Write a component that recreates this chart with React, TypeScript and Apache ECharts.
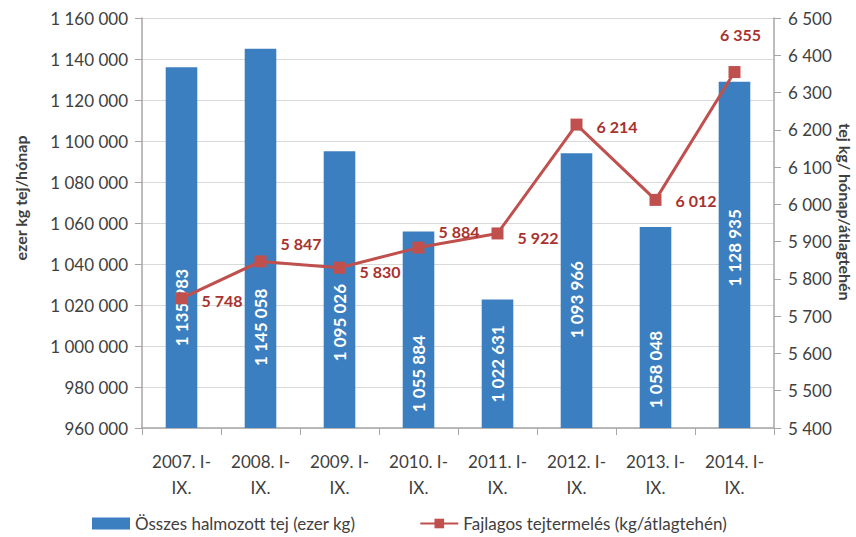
import React, { useEffect, useRef } from "react";
import * as echarts from "echarts";

const categories = ["2007. I-\nIX.", "2008. I-\nIX.", "2009. I-\nIX.", "2010. I-\nIX.", "2011. I-\nIX.", "2012. I-\nIX.", "2013. I-\nIX.", "2014. I-\nIX."];
const milkTotal = [1135983, 1145058, 1095026, 1055884, 1022631, 1093966, 1058048, 1128935];
const milkPerCow = [5748, 5847, 5830, 5884, 5922, 6214, 6012, 6355];
const barName = "Összes halmozott tej (ezer kg)";
const lineName = "Fajlagos tejtermelés (kg/átlagtehén)";
const leftAxisTitle = "ezer kg tej/hónap";
const rightAxisTitle = "tej kg/ hónap/átlagtehén";

const FONT = "Lato";
const fmt = (v: number) => String(Math.round(v)).replace(/\B(?=(\d{3})+(?!\d))/g, " ");

// label placement tweaks (styling only)
const barLabelShift = [60, 89, 33, 44, 0, 9, 42, -7];
const lineLabelStyle = [
  { position: "right", offset: [4, 2] },
  { position: "right", offset: [4, -18] },
  { position: "right", offset: [4, 4] },
  { position: "right", offset: [4, -16] },
  { position: "right", offset: [4, 4] },
  { position: "right", offset: [4, 2] },
  { position: "right", offset: [4, 1] },
  { position: "top", offset: [6, -14] },
];

export default function App() {
  const ref = useRef<HTMLDivElement>(null);
  useEffect(() => {
    if (!ref.current) return;
    const chart = echarts.init(ref.current, null, { renderer: "svg" });
    const axisLabel = { color: "#404040", fontFamily: FONT, fontSize: 17 };
    chart.setOption({
      animation: false,
      grid: { left: 142, right: 82, top: 18, bottom: 109 },
      legend: {
        top: 515,
        left: 92,
        padding: 0,
        itemGap: 64,
        textStyle: { color: "#404040", fontFamily: FONT, fontSize: 17 },
        data: [
          { name: barName, icon: "rect", itemWidth: 38, itemHeight: 12 },
          { name: lineName },
        ],
        itemWidth: 38,
        itemHeight: 12,
      },
      graphic: [
        {
          type: "text",
          x: 20,
          y: 198,
          rotation: Math.PI / 2,
          style: { text: leftAxisTitle, fill: "#404040", font: `bold 16px ${FONT}`, align: "center", verticalAlign: "middle" },
        },
        {
          type: "text",
          x: 845,
          y: 212,
          rotation: -Math.PI / 2,
          style: { text: rightAxisTitle, fill: "#404040", font: `bold 16px ${FONT}`, align: "center", verticalAlign: "middle" },
        },
      ],
      xAxis: {
        type: "category",
        data: categories,
        axisLine: { lineStyle: { color: "#A6A6A6", width: 1.5 } },
        axisTick: { show: true, alignWithLabel: false, length: 7, lineStyle: { color: "#A6A6A6" } },
        axisLabel: { ...axisLabel, margin: 20, lineHeight: 26 },
      },
      yAxis: [
        {
          type: "value",
          min: 960000,
          max: 1160000,
          interval: 20000,
          axisLine: { show: true, lineStyle: { color: "#A6A6A6", width: 1.5 } },
          axisTick: { show: true, length: 7, lineStyle: { color: "#A6A6A6" } },
          splitLine: { lineStyle: { color: "#D9D9D9", width: 1 } },
          axisLabel: { ...axisLabel, margin: 14, formatter: fmt },
        },
        {
          type: "value",
          min: 5400,
          max: 6500,
          interval: 100,
          position: "right",
          axisLine: { show: true, lineStyle: { color: "#A6A6A6", width: 1.5 } },
          axisTick: { show: true, length: 7, lineStyle: { color: "#A6A6A6" } },
          splitLine: { show: false },
          axisLabel: { ...axisLabel, margin: 14, formatter: fmt },
        },
      ],
      series: [
        {
          name: barName,
          type: "bar",
          yAxisIndex: 0,
          barWidth: "40%",
          itemStyle: { color: "#3C7FC0" },
          data: milkTotal.map((v, i) => ({
            value: v,
            label: { offset: [-barLabelShift[i], 0] },
          })),
          label: {
            show: true,
            position: "inside",
            rotate: 90,
            color: "#FFFFFF",
            fontFamily: FONT,
            fontSize: 17,
            fontWeight: "bold",
            formatter: (p: any) => fmt(p.value),
          },
        },
        {
          name: lineName,
          type: "line",
          yAxisIndex: 1,
          symbol: "rect",
          symbolSize: 12,
          lineStyle: { color: "#C0504D", width: 3 },
          itemStyle: { color: "#C0504D" },
          data: milkPerCow.map((v, i) => ({
            value: v,
            label: lineLabelStyle[i],
          })),
          label: {
            show: true,
            color: "#A8322E",
            fontFamily: FONT,
            fontSize: 16,
            fontWeight: "bold",
            distance: 10,
            formatter: (p: any) => fmt(p.value),
          },
        },
      ],
    } as any);
    return () => chart.dispose();
  }, []);
  return <div ref={ref} style={{ position: "absolute", left: 0, top: 0, width: 856, height: 537 }} />;
}
